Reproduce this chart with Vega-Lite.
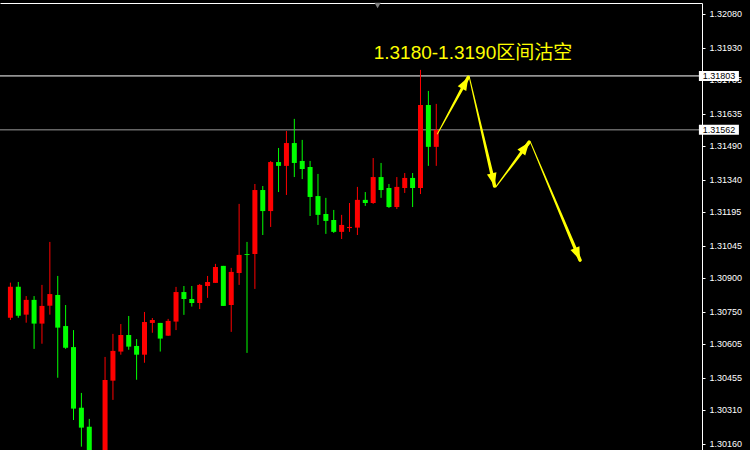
{
  "$schema": "https://vega.github.io/schema/vega-lite/v6.json",
  "width": 702,
  "height": 447,
  "autosize": {"type": "none"},
  "padding": {"left": 0, "top": 3, "right": 48, "bottom": 0},
  "background": "#000000",
  "config": {
    "view": {"stroke": null},
    "axis": {"grid": false},
    "axisY": {"labelOverlap": false, "labelBound": false, "labelFlush": false, "labelSeparation": 0, "labelColor": "#ffffff", "labelFont": "Liberation Sans", "labelFontSize": 9, "labelPadding": 4, "tickColor": "#ffffff", "tickSize": 3, "domainColor": "#ffffff", "tickCount": 30}
  },
  "datasets": {
    "candles": [
      {"i": 0, "o": 1.30722, "h": 1.30879, "l": 1.30712, "c": 1.30861},
      {"i": 1, "o": 1.30861, "h": 1.30882, "l": 1.30722, "c": 1.30731},
      {"i": 2, "o": 1.30736, "h": 1.30819, "l": 1.30700, "c": 1.30802},
      {"i": 3, "o": 1.30802, "h": 1.30819, "l": 1.30583, "c": 1.30696},
      {"i": 4, "o": 1.30696, "h": 1.30869, "l": 1.30606, "c": 1.30775},
      {"i": 5, "o": 1.30776, "h": 1.31061, "l": 1.30736, "c": 1.30828},
      {"i": 6, "o": 1.30824, "h": 1.30909, "l": 1.30454, "c": 1.30678},
      {"i": 7, "o": 1.30685, "h": 1.30779, "l": 1.30583, "c": 1.30588},
      {"i": 8, "o": 1.30591, "h": 1.30667, "l": 1.30265, "c": 1.30316},
      {"i": 9, "o": 1.30320, "h": 1.30386, "l": 1.30146, "c": 1.30231},
      {"i": 10, "o": 1.30235, "h": 1.30270, "l": 1.30040, "c": 1.30080},
      {"i": 11, "o": 1.30080, "h": 1.30115, "l": 1.29980, "c": 1.30010},
      {"i": 12, "o": 1.30020, "h": 1.30547, "l": 1.29990, "c": 1.30444},
      {"i": 13, "o": 1.30441, "h": 1.30650, "l": 1.30355, "c": 1.30574},
      {"i": 14, "o": 1.30571, "h": 1.30694, "l": 1.30557, "c": 1.30645},
      {"i": 15, "o": 1.30645, "h": 1.30730, "l": 1.30579, "c": 1.30593},
      {"i": 16, "o": 1.30596, "h": 1.30627, "l": 1.30445, "c": 1.30557},
      {"i": 17, "o": 1.30557, "h": 1.30748, "l": 1.30521, "c": 1.30703},
      {"i": 18, "o": 1.30699, "h": 1.30721, "l": 1.30655, "c": 1.30712},
      {"i": 19, "o": 1.30699, "h": 1.30699, "l": 1.30571, "c": 1.30629},
      {"i": 20, "o": 1.30642, "h": 1.30717, "l": 1.30641, "c": 1.30708},
      {"i": 21, "o": 1.30705, "h": 1.30860, "l": 1.30667, "c": 1.30837},
      {"i": 22, "o": 1.30837, "h": 1.30864, "l": 1.30735, "c": 1.30806},
      {"i": 23, "o": 1.30806, "h": 1.30864, "l": 1.30772, "c": 1.30788},
      {"i": 24, "o": 1.30788, "h": 1.30873, "l": 1.30761, "c": 1.30869},
      {"i": 25, "o": 1.30864, "h": 1.30909, "l": 1.30811, "c": 1.30882},
      {"i": 26, "o": 1.30878, "h": 1.30963, "l": 1.30878, "c": 1.30949},
      {"i": 27, "o": 1.30954, "h": 1.30954, "l": 1.30775, "c": 1.30775},
      {"i": 28, "o": 1.30779, "h": 1.30945, "l": 1.30659, "c": 1.30927},
      {"i": 29, "o": 1.30922, "h": 1.31231, "l": 1.30869, "c": 1.31003},
      {"i": 30, "o": 1.31007, "h": 1.31061, "l": 1.30565, "c": 1.31003},
      {"i": 31, "o": 1.31007, "h": 1.31320, "l": 1.30851, "c": 1.31293},
      {"i": 32, "o": 1.31293, "h": 1.31311, "l": 1.31092, "c": 1.31199},
      {"i": 33, "o": 1.31199, "h": 1.31423, "l": 1.31128, "c": 1.31418},
      {"i": 34, "o": 1.31418, "h": 1.31481, "l": 1.31284, "c": 1.31401},
      {"i": 35, "o": 1.31401, "h": 1.31557, "l": 1.31271, "c": 1.31503},
      {"i": 36, "o": 1.31503, "h": 1.31611, "l": 1.31351, "c": 1.31414},
      {"i": 37, "o": 1.31423, "h": 1.31517, "l": 1.31342, "c": 1.31387},
      {"i": 38, "o": 1.31396, "h": 1.31423, "l": 1.31177, "c": 1.31262},
      {"i": 39, "o": 1.31266, "h": 1.31365, "l": 1.31137, "c": 1.31182},
      {"i": 40, "o": 1.31186, "h": 1.31258, "l": 1.31097, "c": 1.31155},
      {"i": 41, "o": 1.31159, "h": 1.31204, "l": 1.31101, "c": 1.31106},
      {"i": 42, "o": 1.31106, "h": 1.31182, "l": 1.31074, "c": 1.31137},
      {"i": 43, "o": 1.31123, "h": 1.31235, "l": 1.31106, "c": 1.31128},
      {"i": 44, "o": 1.31125, "h": 1.31307, "l": 1.31092, "c": 1.31249},
      {"i": 45, "o": 1.31249, "h": 1.31284, "l": 1.31222, "c": 1.31235},
      {"i": 46, "o": 1.31235, "h": 1.31436, "l": 1.31231, "c": 1.31351},
      {"i": 47, "o": 1.31351, "h": 1.31414, "l": 1.31258, "c": 1.31293},
      {"i": 48, "o": 1.31302, "h": 1.31320, "l": 1.31213, "c": 1.31217},
      {"i": 49, "o": 1.31217, "h": 1.31351, "l": 1.31208, "c": 1.31307},
      {"i": 50, "o": 1.31302, "h": 1.31369, "l": 1.31280, "c": 1.31347},
      {"i": 51, "o": 1.31347, "h": 1.31369, "l": 1.31217, "c": 1.31302},
      {"i": 52, "o": 1.31302, "h": 1.31830, "l": 1.31275, "c": 1.31673},
      {"i": 53, "o": 1.31673, "h": 1.31736, "l": 1.31401, "c": 1.31486},
      {"i": 54, "o": 1.31486, "h": 1.31678, "l": 1.31401, "c": 1.31562}
    ],
    "levels": [
      {"name": "resistance", "price": 1.31803},
      {"name": "current", "price": 1.31562}
    ],
    "arrows": [
      {"arrow": 1, "pt": 0, "i": 54.15, "p": 1.31544},
      {"arrow": 1, "pt": 1, "i": 58.06, "p": 1.31797},
      {"arrow": 2, "pt": 0, "i": 58.19, "p": 1.31798},
      {"arrow": 2, "pt": 1, "i": 61.40, "p": 1.31311},
      {"arrow": 3, "pt": 0, "i": 61.56, "p": 1.31307},
      {"arrow": 3, "pt": 1, "i": 65.78, "p": 1.31507},
      {"arrow": 4, "pt": 0, "i": 65.94, "p": 1.31507},
      {"arrow": 4, "pt": 1, "i": 72.23, "p": 1.30980}
    ]
  },
  "layer": [
    {
      "data": {"name": "levels"},
      "mark": {"type": "rule", "strokeWidth": 1},
      "encoding": {
        "y": {"field": "price", "type": "quantitative", "title": null,
              "scale": {"domain": [1.30131, 1.32129], "nice": false, "zero": false},
              "axis": {"orient": "right", "values": [1.3208, 1.3193, 1.31785, 1.31635, 1.3149, 1.3134, 1.31195, 1.31045, 1.309, 1.3075, 1.30605, 1.30455, 1.3031, 1.3016],
                       "tickCount": 30,
                       "format": ".5f", "grid": false, "domainColor": "#ffffff", "domainWidth": 1, "tickColor": "#ffffff", "tickSize": 3, "tickWidth": 1,
                       "labelColor": "#ffffff", "labelFont": "Liberation Sans", "labelFontSize": 9, "labelPadding": 4, "labelBaseline": "middle",
                       "labelOverlap": false, "labelSeparation": 0, "labelBound": false, "labelFlush": false, "title": null}},
        "color": {"condition": {"test": "datum.name === 'current'", "value": "#9a9a9a"}, "value": "#ffffff"}
      }
    },
    {
      "data": {"name": "candles"},
      "mark": {"type": "rule", "strokeWidth": 1},
      "encoding": {
        "x": {"field": "i", "type": "quantitative", "title": null,
              "scale": {"domain": [-0.6875, 87.0625], "nice": false, "zero": false},
              "axis": {"orient": "top", "labels": false, "ticks": false, "grid": false, "domainColor": "#ffffff", "domainWidth": 1, "title": null}},
        "y": {"field": "l", "type": "quantitative", "title": null, "scale": {"domain": [1.30131, 1.32129], "nice": false, "zero": false}},
        "y2": {"field": "h"},
        "color": {"condition": {"test": "datum.c > datum.o", "value": "#ff0000"}, "value": "#00ff00"}
      }
    },
    {
      "data": {"name": "candles"},
      "mark": {"type": "bar", "size": 5},
      "encoding": {
        "x": {"field": "i", "type": "quantitative", "title": null, "scale": {"domain": [-0.6875, 87.0625], "nice": false, "zero": false}},
        "y": {"field": "o", "type": "quantitative", "title": null, "scale": {"domain": [1.30131, 1.32129], "nice": false, "zero": false}},
        "y2": {"field": "c"},
        "color": {"condition": {"test": "datum.c > datum.o", "value": "#ff0000"}, "value": "#00ff00"}
      }
    },
    {
      "data": {"name": "levels"},
      "mark": {"type": "point", "shape": "M-1,-0.25H1V0.25H-1Z", "filled": true, "size": 1600, "color": "#ffffff", "opacity": 1, "strokeWidth": 0},
      "encoding": {
        "x": {"datum": 89.84, "type": "quantitative", "scale": {"domain": [-0.6875, 87.0625], "nice": false, "zero": false}},
        "y": {"field": "price", "type": "quantitative", "title": null, "scale": {"domain": [1.30131, 1.32129], "nice": false, "zero": false}}
      }
    },
    {
      "data": {"name": "levels"},
      "mark": {"type": "text", "font": "Liberation Sans", "fontSize": 9, "color": "#000000", "align": "center", "baseline": "middle"},
      "encoding": {
        "x": {"datum": 89.84, "type": "quantitative", "scale": {"domain": [-0.6875, 87.0625], "nice": false, "zero": false}},
        "y": {"field": "price", "type": "quantitative", "title": null, "scale": {"domain": [1.30131, 1.32129], "nice": false, "zero": false}},
        "text": {"field": "price", "type": "quantitative", "format": ".5f"}
      }
    },
    {
      "data": {"name": "arrows"},
      "mark": {"type": "trail", "color": "#ffff00"},
      "encoding": {
        "x": {"field": "i", "type": "quantitative", "title": null, "scale": {"domain": [-0.6875, 87.0625], "nice": false, "zero": false}},
        "y": {"field": "p", "type": "quantitative", "title": null, "scale": {"domain": [1.30131, 1.32129], "nice": false, "zero": false}},
        "detail": {"field": "arrow", "type": "nominal"},
        "order": {"field": "pt", "type": "quantitative"},
        "size": {"field": "pt", "type": "quantitative", "scale": {"domain": [0, 1], "range": [1, 3.5]}, "legend": null}
      }
    },
    {
      "data": {"name": "arrows"},
      "transform": [{"filter": "datum.arrow === 1 && datum.pt === 1"}],
      "mark": {"type": "point", "shape": "M0,0L-0.75,2L0.75,2Z", "filled": true, "size": 169, "color": "#ffff00", "opacity": 1, "angle": 29},
      "encoding": {
        "x": {"field": "i", "type": "quantitative", "title": null, "scale": {"domain": [-0.6875, 87.0625], "nice": false, "zero": false}},
        "y": {"field": "p", "type": "quantitative", "title": null, "scale": {"domain": [1.30131, 1.32129], "nice": false, "zero": false}}
      }
    },
    {
      "data": {"name": "arrows"},
      "transform": [{"filter": "datum.arrow === 2 && datum.pt === 1"}],
      "mark": {"type": "point", "shape": "M0,0L-0.75,2L0.75,2Z", "filled": true, "size": 169, "color": "#ffff00", "opacity": 1, "angle": 167},
      "encoding": {
        "x": {"field": "i", "type": "quantitative", "title": null, "scale": {"domain": [-0.6875, 87.0625], "nice": false, "zero": false}},
        "y": {"field": "p", "type": "quantitative", "title": null, "scale": {"domain": [1.30131, 1.32129], "nice": false, "zero": false}}
      }
    },
    {
      "data": {"name": "arrows"},
      "transform": [{"filter": "datum.arrow === 3 && datum.pt === 1"}],
      "mark": {"type": "point", "shape": "M0,0L-0.75,2L0.75,2Z", "filled": true, "size": 169, "color": "#ffff00", "opacity": 1, "angle": 37},
      "encoding": {
        "x": {"field": "i", "type": "quantitative", "title": null, "scale": {"domain": [-0.6875, 87.0625], "nice": false, "zero": false}},
        "y": {"field": "p", "type": "quantitative", "title": null, "scale": {"domain": [1.30131, 1.32129], "nice": false, "zero": false}}
      }
    },
    {
      "data": {"name": "arrows"},
      "transform": [{"filter": "datum.arrow === 4 && datum.pt === 1"}],
      "mark": {"type": "point", "shape": "M0,0L-0.75,2L0.75,2Z", "filled": true, "size": 169, "color": "#ffff00", "opacity": 1, "angle": 157},
      "encoding": {
        "x": {"field": "i", "type": "quantitative", "title": null, "scale": {"domain": [-0.6875, 87.0625], "nice": false, "zero": false}},
        "y": {"field": "p", "type": "quantitative", "title": null, "scale": {"domain": [1.30131, 1.32129], "nice": false, "zero": false}}
      }
    },
    {
      "data": {"values": [{"label": "1.3180-1.3190区间沽空"}]},
      "mark": {"type": "text", "font": "Liberation Sans, Noto Sans CJK SC", "fontSize": 19, "color": "#ffff00", "align": "left", "baseline": "alphabetic"},
      "encoding": {
        "x": {"datum": 46.06, "type": "quantitative", "scale": {"domain": [-0.6875, 87.0625], "nice": false, "zero": false}},
        "y": {"datum": 1.31877, "type": "quantitative", "scale": {"domain": [1.30131, 1.32129], "nice": false, "zero": false}},
        "text": {"field": "label", "type": "nominal"}
      }
    },
    {
      "data": {"values": [{"marker": "shift"}]},
      "mark": {"type": "point", "shape": "triangle-down", "filled": true, "size": 40, "color": "#808080", "opacity": 1},
      "encoding": {
        "x": {"datum": 46.56, "type": "quantitative", "scale": {"domain": [-0.6875, 87.0625], "nice": false, "zero": false}},
        "y": {"datum": 1.32118, "type": "quantitative", "scale": {"domain": [1.30131, 1.32129], "nice": false, "zero": false}}
      }
    }
  ]
}
